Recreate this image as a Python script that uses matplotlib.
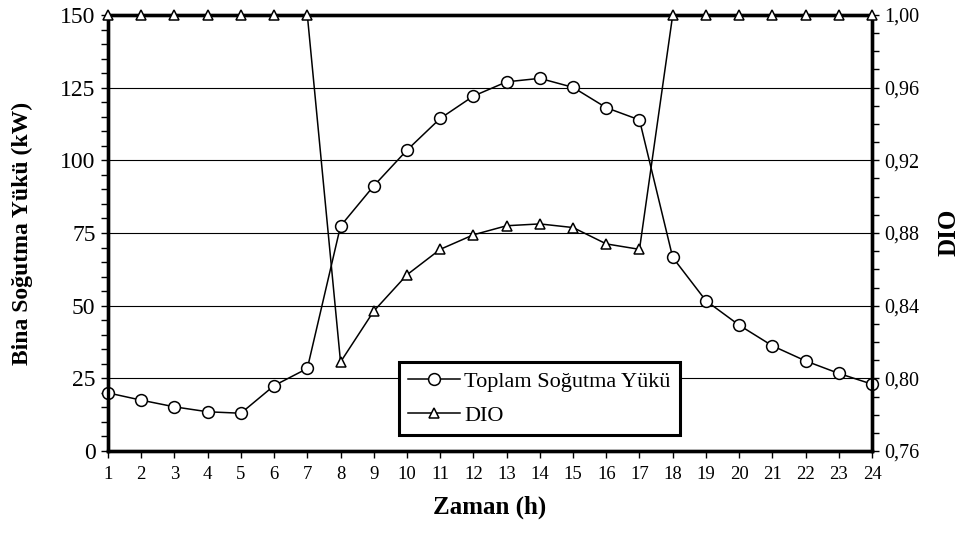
import matplotlib.pyplot as plt
from matplotlib.ticker import MultipleLocator, FuncFormatter

plt.rcParams['font.family'] = ['Liberation Serif', 'DejaVu Serif']

saat = list(range(1, 25))
toplam_yuk = [20.0, 17.5, 15.2, 13.5, 13.0, 22.5, 28.4, 77.4, 91.2, 103.5, 114.4, 122.1,
              127.0, 128.2, 125.1, 118.1, 113.9, 66.6, 51.7, 43.3, 36.2, 31.0, 26.7, 23.0]
dio = [1.00, 1.00, 1.00, 1.00, 1.00, 1.00, 1.00, 0.809, 0.837, 0.857, 0.871, 0.879,
       0.884, 0.885, 0.883, 0.874, 0.871, 1.00, 1.00, 1.00, 1.00, 1.00, 1.00, 1.00]

fig = plt.figure(figsize=(9.61, 5.33), dpi=100)
ax = fig.add_axes([0.1124, 0.1538, 0.795, 0.8181])
ax2 = ax.twinx()

# sol eksen - bina sogutma yuku
l1, = ax.plot(saat, toplam_yuk, color='black', lw=1.1, marker='o', ms=8.5,
              mfc='white', mec='black', mew=1.1, clip_on=False, zorder=3,
              label='Toplam Soğutma Yükü')
# sag eksen - DIO
l2, = ax2.plot(saat, dio, color='black', lw=1.1, marker='^', ms=7.5,
               mfc='white', mec='black', mew=1.1, clip_on=False, zorder=3,
               label='DIO')

ax.set_xlim(1, 24)
ax.set_ylim(0, 150)
ax2.set_ylim(0.76, 1.00)

ax.set_xticks(saat)
ax.yaxis.set_major_locator(MultipleLocator(25))
ax.yaxis.set_minor_locator(MultipleLocator(5))
ax2.yaxis.set_major_locator(MultipleLocator(0.04))
ax2.yaxis.set_minor_locator(MultipleLocator(0.01))
ax2.yaxis.set_major_formatter(FuncFormatter(lambda v, p: f'{v:.2f}'.replace('.', ',')))

ax.grid(axis='y', which='major', color='black', lw=0.8)
ax.set_axisbelow(True)

for a in (ax, ax2):
    for s in a.spines.values():
        s.set_linewidth(2.4)
ax.tick_params(axis='both', which='both', direction='out', width=1.0, length=5,
               labelsize=13.5, pad=6)
ax.tick_params(axis='y', labelsize=17, pad=4)
ax2.tick_params(axis='y', which='both', direction='out', width=1.0, length=5,
                labelsize=14.5, pad=4)

ax.set_xlabel('Zaman (h)', fontsize=18, fontweight='bold', labelpad=9)
ax.set_ylabel('Bina Soğutma Yükü (kW)', fontsize=17, fontweight='bold')
ax.yaxis.set_label_coords(-0.098, 0.5)
ax2.set_ylabel('DIO', fontsize=18, fontweight='bold')
ax2.yaxis.set_label_coords(1.086, 0.502)

leg = ax2.legend(handles=[l1, l2], loc='lower left', bbox_to_anchor=(0.381, 0.037),
                 borderaxespad=0, fontsize=16, frameon=True, fancybox=False,
                 handlelength=2.3, handletextpad=0.2, labelspacing=0.6,
                 borderpad=0.42)
leg.get_frame().set_edgecolor('black')
leg.get_frame().set_linewidth(2.2)
leg.get_frame().set_alpha(1)

fig.savefig('out.png', dpi=100)
